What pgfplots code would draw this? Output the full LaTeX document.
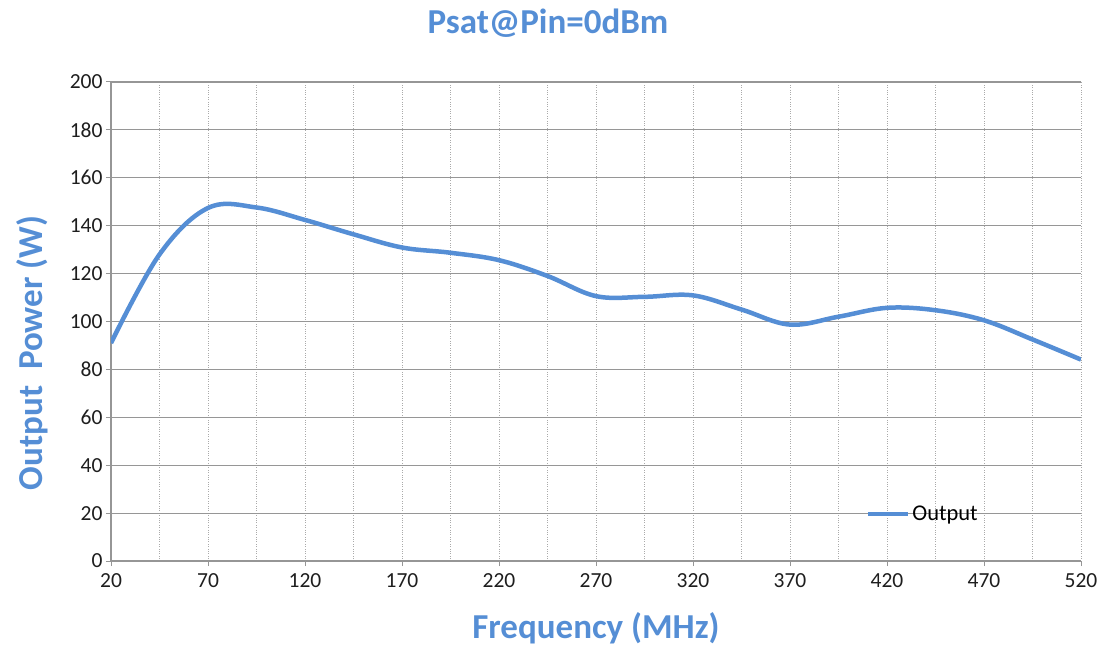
\documentclass[border=0pt]{standalone}
\usepackage{fontspec}
\setmainfont{Carlito}
\usepackage{pgfplots}
\pgfplotsset{compat=1.18}
\definecolor{lineblue}{RGB}{85,142,213}
\definecolor{titleblue}{RGB}{85,142,213}
\definecolor{gridgray}{RGB}{150,150,150}
\definecolor{dotgray}{RGB}{170,170,170}
\definecolor{ticktext}{RGB}{30,30,30}
\begin{document}
\begin{tikzpicture}
\begin{axis}[
    scale only axis,
    width=970bp, height=479bp,
    xmin=20, xmax=520, ymin=0, ymax=200,
    xtick={20,70,...,520},
    ytick={0,20,...,200},
    minor x tick num=1,
    axis x line*=bottom, axis y line*=left,
    axis line style={gridgray, line width=1.2bp},
    tick align=outside,
    major tick length=5bp, minor tick length=0pt,
    tick style={gridgray, line width=1bp},
    ymajorgrids, xmajorgrids, xminorgrids,
    x grid style={dotgray, dotted, line width=0.8bp},
    y grid style={gridgray, solid, line width=1.2bp},
    /pgf/number format/assume math mode=true,
    ticklabel style={font=\fontsize{21.5bp}{24bp}\selectfont, text=ticktext},
    xticklabel style={yshift=-4bp},
    legend style={at={(axis cs:409,19.7)}, anchor=west, draw=none, fill=none,
        font=\fontsize{22.5bp}{25bp}\selectfont, inner sep=0pt},
    legend image code/.code={\draw[#1] (0cm,0cm) -- (40bp,0cm);},
]
\addplot[lineblue, line width=4.5bp, smooth, tension=0.6] coordinates {
    (20,91.0) (45,128.0) (70,147.4) (95,147.6) (120,142.4)
    (145,136.4) (170,130.9) (195,128.7) (220,125.6) (245,119.0) (270,110.6)
    (295,110.3) (320,110.9) (345,105.0) (370,98.7) (395,102.0) (420,105.7)
    (445,104.7) (470,100.5) (495,92.5) (520,84.1)
};
\addlegendentry{Output}
\end{axis}
\node[font=\bfseries\fontsize{35bp}{40bp}\selectfont, text=titleblue]
    at ([shift={(437bp,59bp)}]current axis.north west) {Psat@Pin=0dBm};
\node[font=\bfseries\fontsize{35bp}{40bp}\selectfont, text=titleblue]
    at ([shift={(0bp,-67bp)}]current axis.south) {Frequency (MHz)};
\node[font=\bfseries\fontsize{35bp}{40bp}\selectfont, text=titleblue, rotate=90]
    at ([shift={(-79bp,208bp)}]current axis.south west) {Output\ \ Power (W)};
\path[use as bounding box] ([shift={(-111bp,-85bp)}]current axis.south west)
    rectangle ([shift={(22bp,82bp)}]current axis.north east);
\end{tikzpicture}
\end{document}
